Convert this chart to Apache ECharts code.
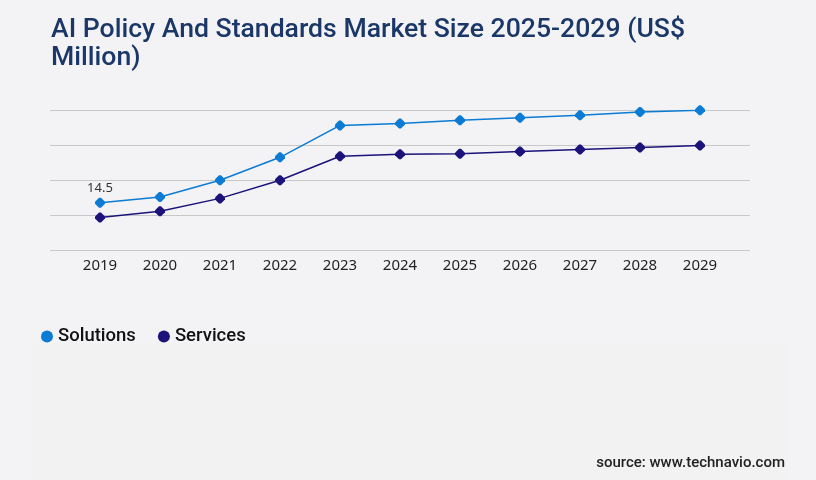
<!DOCTYPE html>
<html>
<head>
<meta charset="utf-8">
<script src="https://cdn.jsdelivr.net/npm/echarts@6/dist/echarts.min.js"></script>
<style>
html,body{margin:0;padding:0;background:#f3f3f5;}
#chart{width:816px;height:480px;}
</style>
</head>
<body>
<div id="chart"></div>
<script>
var years = ['2019','2020','2021','2022','2023','2024','2025','2026','2027','2028','2029'];
var solutions = [14.5, 16.2, 21.3, 28.3, 38.0, 38.6, 39.6, 40.3, 41.1, 42.1, 42.6];
var services  = [10.0, 11.9, 15.8, 21.3, 28.6, 29.2, 29.4, 30.1, 30.7, 31.3, 31.9];
var seriesNames = ['Solutions', 'Services'];
var titleText = 'AI Policy And Standards Market Size 2025-2029 (US$\nMillion)';
var sourceText = 'source: www.technavio.com';

var yMax = 42.6, yStep = 10.65;
var marker = 'path://M4,0 L6,0 L10,4 L10,6 L6,10 L4,10 L0,6 L0,4 Z';

var chart = echarts.init(document.getElementById('chart'), null, {renderer: 'canvas'});
chart.setOption({
  backgroundColor: '#f3f3f5',
  animation: false,
  title: {
    text: titleText,
    left: 51, top: 16, padding: 0,
    textStyle: {fontFamily: 'Roboto', fontSize: 26.6, fontWeight: 500, color: '#1a3767', lineHeight: 28.5}
  },
  graphic: [
    {type: 'rect', z: -10, shape: {x: 32, y: 343, width: 758, height: 137}, style: {fill: '#f2f2f3'}},
    {type: 'text', right: 31, top: 456, style: {text: sourceText, font: '500 15px Roboto', fill: '#222'}}
  ],
  legend: {
    left: 41, top: 327, padding: 0,
    itemWidth: 12, itemHeight: 12, itemGap: 22,
    icon: 'circle',
    textStyle: {fontFamily: 'Roboto', fontSize: 18.5, fontWeight: 500, color: '#111'},
    data: seriesNames
  },
  grid: [
    {left: 50, width: 700, top: 110.3, height: 140},
    {left: 70, width: 660, top: 110.3, height: 140}
  ],
  xAxis: [
    {type: 'category', gridIndex: 0, data: years, show: false},
    {type: 'category', gridIndex: 1, data: years, boundaryGap: true,
     axisLine: {show: false}, axisTick: {show: false},
     axisLabel: {margin: 8, fontFamily: 'Noto Sans', fontSize: 15, color: '#222'}}
  ],
  yAxis: [
    {type: 'value', gridIndex: 0, min: 0, max: yMax, interval: yStep,
     axisLabel: {show: false}, axisLine: {show: false}, axisTick: {show: false},
     splitLine: {lineStyle: {color: '#c8c8c8', width: 1}}},
    {type: 'value', gridIndex: 1, min: 0, max: yMax, interval: yStep, show: false,
     splitLine: {show: false}}
  ],
  series: [
    {name: seriesNames[0], type: 'line', xAxisIndex: 1, yAxisIndex: 1, data: solutions,
     symbol: marker, symbolSize: 10,
     itemStyle: {color: '#0b7bd3'}, lineStyle: {color: '#0b7bd3', width: 1.5},
     label: {show: true, position: 'top', distance: 3, fontFamily: 'Noto Sans', fontSize: 13, color: '#333',
       formatter: function (p) { return p.dataIndex === 0 ? p.value : ''; }}},
    {name: seriesNames[1], type: 'line', xAxisIndex: 1, yAxisIndex: 1, data: services,
     symbol: marker, symbolSize: 10,
     itemStyle: {color: '#1b137a'}, lineStyle: {color: '#1b137a', width: 1.5}}
  ]
});
</script>
</body>
</html>
